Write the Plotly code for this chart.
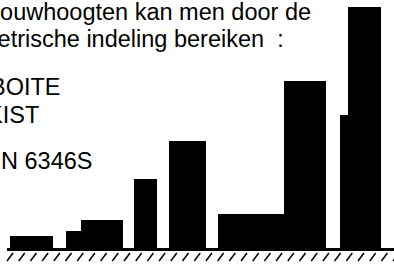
import plotly.graph_objects as go

# ---- data (bar extents along the ground line, and heights above it) ----
bar_left = [10, 66, 81, 134, 169, 218, 284, 340, 348]
bar_right = [53, 81, 123, 157, 206, 284, 326, 348, 381]
bar_height = [12, 17, 28, 69, 107, 34, 167, 133, 241]

text_lines = ["bouwhoogten kan men door de", "metrische indeling bereiken\u00a0 :"]
labels = ["BOITE", "KIST", "N 6346S"]

W, H = 394, 264
centers = [(l + r) / 2 for l, r in zip(bar_left, bar_right)]
widths = [r - l for l, r in zip(bar_left, bar_right)]

fig = go.Figure()
fig.add_trace(go.Bar(
    x=centers, y=bar_height, width=widths, base=0,
    marker=dict(color="black", line=dict(width=0)),
    hoverinfo="skip", showlegend=False,
))

# ground line
fig.add_shape(type="rect", x0=7, x1=394, y0=-3, y1=0,
              fillcolor="black", line=dict(width=0), layer="above")

# hatching below the ground line
s = 7.0
while s < 394:
    fig.add_shape(type="line", x0=s, y0=-13, x1=s + 6, y1=-5,
                  line=dict(color="black", width=1.5))
    s += 11.7

font = dict(family="Liberation Sans, Arial, sans-serif", size=23.5, color="black")


def add_text(t, px, py):
    fig.add_annotation(x=px / W, y=1 - py / H, text=t, showarrow=False,
                       xanchor="left", yanchor="top", font=font,
                       xref="paper", yref="paper")


text_pos = [(-15, -3), (-24, 24)]
for t, (x, y) in zip(text_lines, text_pos):
    add_text(t, x, y)

label_pos = [(-12, 72), (-15, 100), (-1, 146)]
for t, (x, y) in zip(labels, label_pos):
    add_text(t, x, y)

fig.update_layout(
    width=W, height=H,
    margin=dict(l=0, r=0, t=0, b=0),
    paper_bgcolor="white", plot_bgcolor="white",
    xaxis=dict(range=[0, 394], visible=False, fixedrange=True),
    yaxis=dict(range=[-16, 248], visible=False, fixedrange=True),
    bargap=0,
)
fig.write_html("out.html", config={"displayModeBar": False, "staticPlot": True})

with open("out.html", "r", encoding="utf-8") as f:
    html = f.read()
html = html.replace("<head>", "<head><style>html,body{margin:0;padding:0;overflow:hidden;}</style>", 1)
with open("out.html", "w", encoding="utf-8") as f:
    f.write(html)
